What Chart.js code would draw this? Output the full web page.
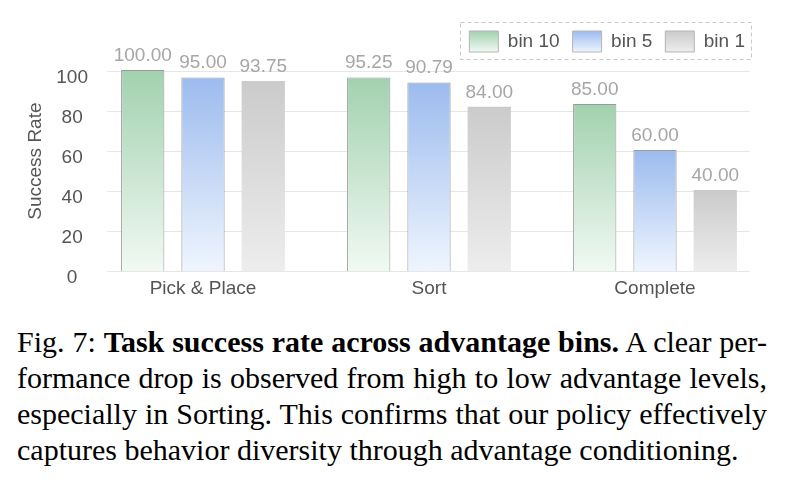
<!DOCTYPE html>
<html>
<head>
<meta charset="utf-8">
<script src="https://cdn.jsdelivr.net/npm/chart.js@4.4.1/dist/chart.umd.min.js"></script>
<style>
  body { margin: 0; background: #fff; width: 785px; height: 482px; overflow: hidden; position: relative; }
  #wrap { position: absolute; left: 0; top: 0; width: 785px; height: 306px; }
  .cap { position: absolute; left: 17px; top: 324px; width: 750px; color: #000;
         font-family: "Liberation Serif", "Times New Roman", serif; font-size: 30px; line-height: 36px; }
  .cap .j { text-align: justify; text-align-last: justify; }
</style>
</head>
<body>
<div id="wrap"><canvas id="myChart" width="785" height="306"></canvas></div>
<div class="cap">
  <div class="j">Fig. 7: <b>Task success rate across advantage bins.</b> A clear per-</div>
  <div class="j">formance drop is observed from high to low advantage levels,</div>
  <div class="j">especially in Sorting. This confirms that our policy effectively</div>
  <div>captures behavior diversity through advantage conditioning.</div>
</div>
<script>
const categories = ['Pick & Place', 'Sort', 'Complete'];
const seriesNames = ['bin 10', 'bin 5', 'bin 1'];
// bar heights as drawn in the figure (tops don't sit exactly on the printed numbers)
const bin10 = [100.5, 96.8, 83.5];
const bin5  = [96.8, 94.3, 60.5];
const bin1  = [95.0, 82.2, 40.5];
// numbers printed above the bars
const bin10Text = ['100.00', '95.25', '85.00'];
const bin5Text  = ['95.00', '90.79', '60.00'];
const bin1Text  = ['93.75', '84.00', '40.00'];
const yTicks = [0, 20, 40, 60, 80, 100];

const fills = [['#a2d1af', '#f1f9f3'], ['#9cbbee', '#eff5fe'], ['#cbcbcb', '#ededed']];
const labelTexts = [bin10Text, bin5Text, bin1Text];

Chart.defaults.font.family = "'Liberation Sans', Arial, Helvetica, sans-serif";
Chart.defaults.font.size = 19;

function barFill(c, i) {
  const y = c.chart.scales.y;
  if (!y || c.type !== 'data') return fills[i][0];
  const top = y.getPixelForValue(c.raw);
  const bottom = y.getPixelForValue(0);
  if (!isFinite(top) || !isFinite(bottom) || top === bottom) return fills[i][0];
  const g = c.chart.ctx.createLinearGradient(0, top, 0, bottom);
  g.addColorStop(0, fills[i][0]);
  g.addColorStop(1, fills[i][1]);
  return g;
}

const decor = {
  id: 'decor',
  afterLayout(chart) {
    // nudge legend up/left so it sits where the figure has it
    const lg = chart.legend;
    lg.top -= 9; lg.bottom -= 9; lg.left -= 10; lg.right -= 10;
  },
  beforeDraw(chart) {
    // legend labels get rebuilt after layout, so set the gradient boxes here
    const lg = chart.legend;
    const top = lg.top + lg.options.labels.padding;
    lg.legendItems.forEach((it, i) => {
      const g = chart.ctx.createLinearGradient(0, top, 0, top + 21);
      g.addColorStop(0, fills[i][0]);
      g.addColorStop(1, fills[i][1]);
      it.fillStyle = g;
      it.strokeStyle = '#b5b5b5';
      it.lineWidth = 1;
    });
  },
  beforeDatasetsDraw(chart) {
    const {ctx, chartArea, scales: {y}} = chart;
    ctx.save();
    ctx.strokeStyle = '#e6e6e6';
    ctx.lineWidth = 1;
    y.ticks.forEach(t => {
      const py = Math.round(y.getPixelForValue(t.value)) + 0.5;
      ctx.beginPath();
      ctx.moveTo(chartArea.left + 17, py);
      ctx.lineTo(chartArea.right - 18, py);
      ctx.stroke();
    });
    ctx.restore();
  },
  afterDatasetsDraw(chart) {
    const ctx = chart.ctx;
    ctx.save();
    ctx.font = "19px 'Liberation Sans', Arial, sans-serif";
    ctx.fillStyle = '#a6a6a6';
    ctx.textAlign = 'center';
    ctx.textBaseline = 'alphabetic';
    chart.data.datasets.forEach((ds, i) => {
      chart.getDatasetMeta(i).data.forEach((bar, j) => {
        ctx.fillText(labelTexts[i][j], bar.x, bar.y - 9);
      });
    });
    ctx.restore();
  },
  afterDraw(chart) {
    const {ctx, chartArea} = chart;
    const lg = chart.legend, pad = lg.options.labels.padding;
    const x0 = Math.round(lg.right - lg.lineWidths[0] - 9) + 0.5;
    const x1 = Math.round(lg.right - pad + 6) + 0.5;
    const y0 = Math.round(lg.top + pad - 9) + 0.5;
    const y1 = Math.round(lg.top + pad + 21 + 7) + 0.5;
    ctx.save();
    ctx.setLineDash([4, 3]);
    ctx.strokeStyle = '#c8c8c8';
    ctx.lineWidth = 1;
    ctx.strokeRect(x0, y0, x1 - x0, y1 - y0);
    ctx.restore();

    // y axis title
    ctx.save();
    ctx.translate(36, (chartArea.top + chartArea.bottom) / 2 - 10);
    ctx.rotate(-Math.PI / 2);
    ctx.font = "19px 'Liberation Sans', Arial, sans-serif";
    ctx.fillStyle = '#555';
    ctx.textAlign = 'center';
    ctx.textBaseline = 'middle';
    ctx.fillText('Success Rate', 0, 0);
    ctx.restore();
  }
};

new Chart('myChart', {
  type: 'bar',
  data: {
    labels: categories,
    datasets: [
      { label: seriesNames[0], data: bin10, backgroundColor: c => barFill(c, 0), borderColor: '#9a9a9a', borderWidth: 1 },
      { label: seriesNames[1], data: bin5,  backgroundColor: c => barFill(c, 1), borderColor: '#9a9a9a', borderWidth: 1 },
      { label: seriesNames[2], data: bin1,  backgroundColor: c => barFill(c, 2), borderWidth: 0 }
    ]
  },
  options: {
    responsive: false,
    devicePixelRatio: 1,
    animation: false,
    layout: { padding: { top: 27, right: 17, left: 0, bottom: 0 } },
    datasets: { bar: { categoryPercentage: 0.8, barPercentage: 0.718, clip: false } },
    scales: {
      x: {
        grid: { display: false, drawTicks: false },
        border: { display: false },
        ticks: { color: '#555', padding: 6 }
      },
      y: {
        min: 0,
        max: 100,
        afterFit(s) { s.width = 90; },
        afterBuildTicks(s) { s.ticks = yTicks.map(v => ({ value: v })); },
        grid: { display: false, drawTicks: false },
        border: { display: false },
        ticks: { color: '#555', padding: 2, crossAlign: 'center', labelOffset: 7 }
      }
    },
    plugins: {
      legend: {
        position: 'top',
        align: 'end',
        labels: { boxWidth: 29, boxHeight: 21, padding: 13, color: '#555' }
      },
      tooltip: { enabled: false }
    }
  },
  plugins: [decor]
});
</script>
</body>
</html>
